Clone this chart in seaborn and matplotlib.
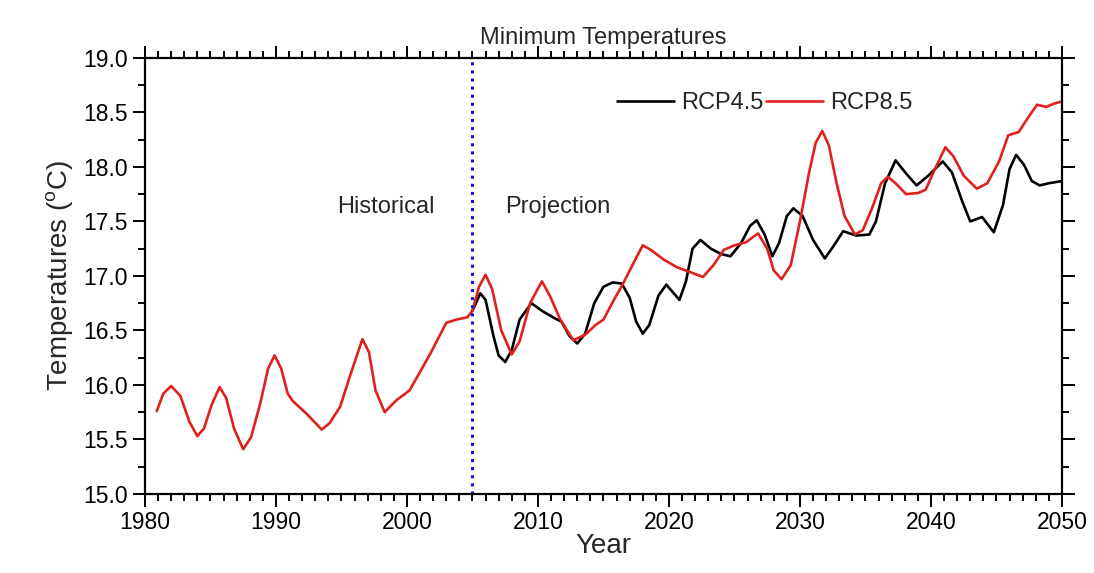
import numpy as np
import pandas as pd
import matplotlib
matplotlib.use('Agg')
import matplotlib.pyplot as plt
import seaborn as sns
from matplotlib.ticker import MultipleLocator

# Values (year, deg C)
hist_year = [1980.9, 1981.4, 1982.0, 1982.7, 1983.4, 1984.0, 1984.5, 1985.1, 1985.7,
             1986.2, 1986.8, 1987.5, 1988.1, 1988.8, 1989.4, 1989.9, 1990.4, 1990.9,
             1991.3, 1992.3, 1993.5, 1994.1, 1994.9, 1995.7, 1996.6, 1997.1, 1997.6,
             1998.3, 1999.2, 2000.2, 2001.0, 2001.8, 2003.0, 2003.8, 2004.6, 2005.0]
hist_temp = [15.76, 15.92, 15.99, 15.90, 15.66, 15.53, 15.60, 15.82, 15.98,
             15.88, 15.60, 15.41, 15.52, 15.83, 16.15, 16.27, 16.15, 15.92,
             15.85, 15.74, 15.59, 15.65, 15.80, 16.10, 16.42, 16.30, 15.95,
             15.75, 15.86, 15.95, 16.12, 16.29, 16.57, 16.60, 16.62, 16.68]

rcp45_year = [2005.0, 2005.6, 2006.0, 2006.6, 2007.0, 2007.5, 2008.0, 2008.6, 2009.5,
              2010.3, 2011.3, 2011.8, 2012.4, 2013.0, 2013.6, 2014.3, 2015.0, 2015.7,
              2016.4, 2017.0, 2017.5, 2018.0, 2018.5, 2019.2, 2019.8, 2020.3, 2020.8,
              2021.3, 2021.8, 2022.4, 2023.2, 2024.0, 2024.7, 2025.5, 2026.2, 2026.7,
              2027.3, 2027.9, 2028.4, 2029.0, 2029.5, 2030.2, 2031.0, 2031.9, 2032.6,
              2033.3, 2034.3, 2035.3, 2035.8, 2036.5, 2037.3, 2038.1, 2038.9, 2039.8,
              2040.9, 2041.6, 2042.4, 2043.0, 2043.9, 2044.8, 2045.5, 2046.0, 2046.5,
              2047.1, 2047.7, 2048.3, 2049.0, 2050.0]
rcp45_temp = [16.68, 16.84, 16.78, 16.45, 16.27, 16.21, 16.32, 16.60, 16.75,
              16.68, 16.61, 16.58, 16.45, 16.38, 16.47, 16.75, 16.90, 16.94,
              16.93, 16.80, 16.58, 16.47, 16.55, 16.82, 16.92, 16.85, 16.78,
              16.95, 17.25, 17.33, 17.25, 17.20, 17.18, 17.30, 17.46, 17.51,
              17.38, 17.18, 17.30, 17.55, 17.62, 17.55, 17.33, 17.16, 17.28,
              17.41, 17.37, 17.38, 17.50, 17.85, 18.06, 17.94, 17.83, 17.92,
              18.05, 17.95, 17.68, 17.50, 17.54, 17.40, 17.65, 17.98, 18.11,
              18.02, 17.87, 17.83, 17.85, 17.87]

rcp85_year = [2005.0, 2005.5, 2006.0, 2006.5, 2007.2, 2008.0, 2008.6, 2009.4, 2010.3,
              2010.9, 2011.7, 2012.7, 2013.6, 2014.4, 2015.0, 2015.8, 2016.5, 2017.3,
              2018.0, 2018.6, 2019.6, 2020.6, 2021.5, 2022.6, 2023.4, 2024.2, 2025.0,
              2025.9, 2026.8, 2027.5, 2028.0, 2028.6, 2029.3, 2030.0, 2030.7, 2031.2,
              2031.7, 2032.2, 2032.8, 2033.4, 2034.2, 2034.8, 2035.5, 2036.2, 2036.7,
              2037.3, 2038.1, 2039.0, 2039.6, 2040.3, 2041.1, 2041.7, 2042.5, 2043.5,
              2044.3, 2045.2, 2045.9, 2046.7, 2047.4, 2048.1, 2048.8, 2049.4, 2050.0]
rcp85_temp = [16.68, 16.90, 17.01, 16.88, 16.50, 16.28, 16.40, 16.75, 16.95,
              16.82, 16.60, 16.41, 16.46, 16.55, 16.60, 16.78, 16.93, 17.12,
              17.28, 17.24, 17.15, 17.08, 17.04, 16.99, 17.10, 17.24, 17.28,
              17.31, 17.39, 17.25, 17.05, 16.97, 17.10, 17.50, 17.95, 18.22,
              18.33, 18.20, 17.85, 17.55, 17.38, 17.42, 17.62, 17.85, 17.91,
              17.85, 17.75, 17.76, 17.79, 17.98, 18.18, 18.10, 17.92, 17.80,
              17.85, 18.05, 18.29, 18.32, 18.45, 18.57, 18.55, 18.58, 18.60]

split_year = 2005

sns.set_style('ticks')
plt.rcParams['font.family'] = ['Liberation Sans', 'DejaVu Sans']
plt.rcParams['mathtext.default'] = 'regular'

hist_df = pd.DataFrame({'Year': hist_year, 'Temp': hist_temp})
rcp45_df = pd.DataFrame({'Year': rcp45_year, 'Temp': rcp45_temp})
rcp85_df = pd.DataFrame({'Year': rcp85_year, 'Temp': rcp85_temp})

fig = plt.figure(figsize=(10.94, 5.73), dpi=100)
ax = fig.add_axes([0.1325, 0.138, 0.8382, 0.761])

line_kw = dict(linewidth=1.9, sort=False, estimator=None,
               solid_joinstyle='round', solid_capstyle='round')
sns.lineplot(data=hist_df, x='Year', y='Temp', ax=ax, color='#e0201c', **line_kw)
sns.lineplot(data=rcp45_df, x='Year', y='Temp', ax=ax, color='black',
             label='RCP4.5', **line_kw)
sns.lineplot(data=rcp85_df, x='Year', y='Temp', ax=ax, color='#e0201c',
             label='RCP8.5', **line_kw)

ax.axvline(split_year, color='#1010e0', linestyle=':', linewidth=2.2)

ax.set_xlim(1980, 2050)
ax.set_ylim(15.0, 19.0)
ax.xaxis.set_major_locator(MultipleLocator(10))
ax.xaxis.set_minor_locator(MultipleLocator(1))
ax.yaxis.set_major_locator(MultipleLocator(0.5))
ax.yaxis.set_minor_locator(MultipleLocator(0.25))
ax.yaxis.set_major_formatter(matplotlib.ticker.FormatStrFormatter('%.1f'))

ax.tick_params(which='both', direction='out', top=True, right=True,
               labeltop=False, labelright=False, width=1.4, colors='black')
ax.tick_params(which='major', length=9, labelsize=16.5)
ax.tick_params(which='minor', length=5)
for side in ax.spines.values():
    side.set_linewidth(1.6)
    side.set_color('black')

ax.set_xlabel('Year', fontsize=20, labelpad=-1)
ax.set_ylabel('Temperatures ($^{o}$C)', fontsize=20, labelpad=6)
ax.set_title('Minimum Temperatures', fontsize=17, pad=10)

ax.text(1998.4, 17.63, 'Historical', fontsize=17, ha='center', va='center')
ax.text(2011.5, 17.63, 'Projection', fontsize=17, ha='center', va='center')

ax.legend(loc='center left', bbox_to_anchor=(0.505, 0.897), ncol=2, frameon=False,
          fontsize=17, handlelength=2.4, handletextpad=0.3, columnspacing=0.1,
          borderaxespad=0)

fig.savefig('out.png', dpi=100)
